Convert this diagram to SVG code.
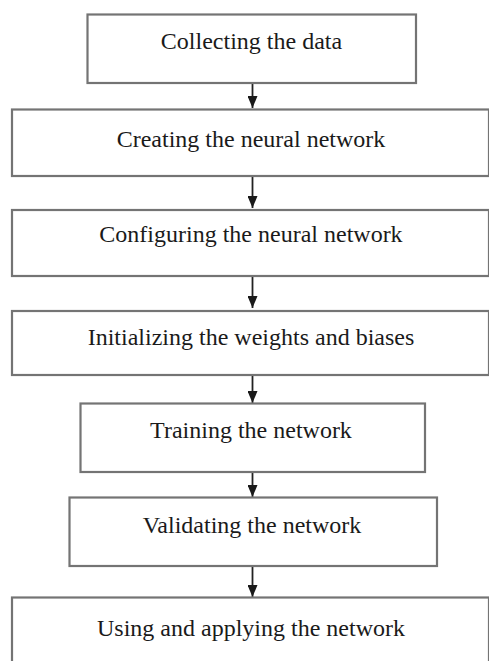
<svg xmlns="http://www.w3.org/2000/svg" width="489" height="661" viewBox="0 0 489 661">
<defs>
<style>
.box{fill:#fff;stroke:#747474;stroke-width:2.2}
.lbl{font-family:"Liberation Serif","Times New Roman",serif;font-size:24px;fill:#1a1a1a;text-anchor:middle}
.conn line{stroke:#222;stroke-width:1.8}
</style>
<marker id="ah" viewBox="0 0 12 10" refX="12" refY="5" markerWidth="12" markerHeight="10" markerUnits="userSpaceOnUse" orient="auto">
<path d="M0,0 L12,5 L0,10 Z" fill="#1a1a1a"/>
</marker>
</defs>
<rect width="489" height="661" fill="#fff"/>
<g id="connectors" class="conn">
<line x1="252.5" y1="83" x2="252.5" y2="108" marker-end="url(#ah)"/>
<line x1="252.5" y1="176" x2="252.5" y2="208" marker-end="url(#ah)"/>
<line x1="252.5" y1="276" x2="252.5" y2="308" marker-end="url(#ah)"/>
<line x1="252.5" y1="375" x2="252.5" y2="403" marker-end="url(#ah)"/>
<line x1="252.5" y1="472" x2="252.5" y2="497" marker-end="url(#ah)"/>
<line x1="252.5" y1="566" x2="252.5" y2="597" marker-end="url(#ah)"/>
</g>
<g id="n1"><rect class="box" x="87.5" y="14.5" width="328.5" height="68.5"/><text class="lbl" x="251.5" y="49">Collecting the data</text></g>
<g id="n2"><rect class="box" x="12" y="109.5" width="477" height="66.5"/><text class="lbl" x="251" y="147">Creating the neural network</text></g>
<g id="n3"><rect class="box" x="12" y="210" width="477" height="66"/><text class="lbl" x="251" y="242">Configuring the neural network</text></g>
<g id="n4"><rect class="box" x="12" y="311" width="477" height="64"/><text class="lbl" x="251" y="345">Initializing the weights and biases</text></g>
<g id="n5"><rect class="box" x="80.5" y="403.5" width="344.5" height="68.5"/><text class="lbl" x="251" y="438">Training the network</text></g>
<g id="n6"><rect class="box" x="69.5" y="497.5" width="367.5" height="68.5"/><text class="lbl" x="252" y="533">Validating the network</text></g>
<g id="n7"><rect class="box" x="12" y="597.5" width="477" height="80"/><text class="lbl" x="251" y="636">Using and applying the network</text></g>
</svg>
